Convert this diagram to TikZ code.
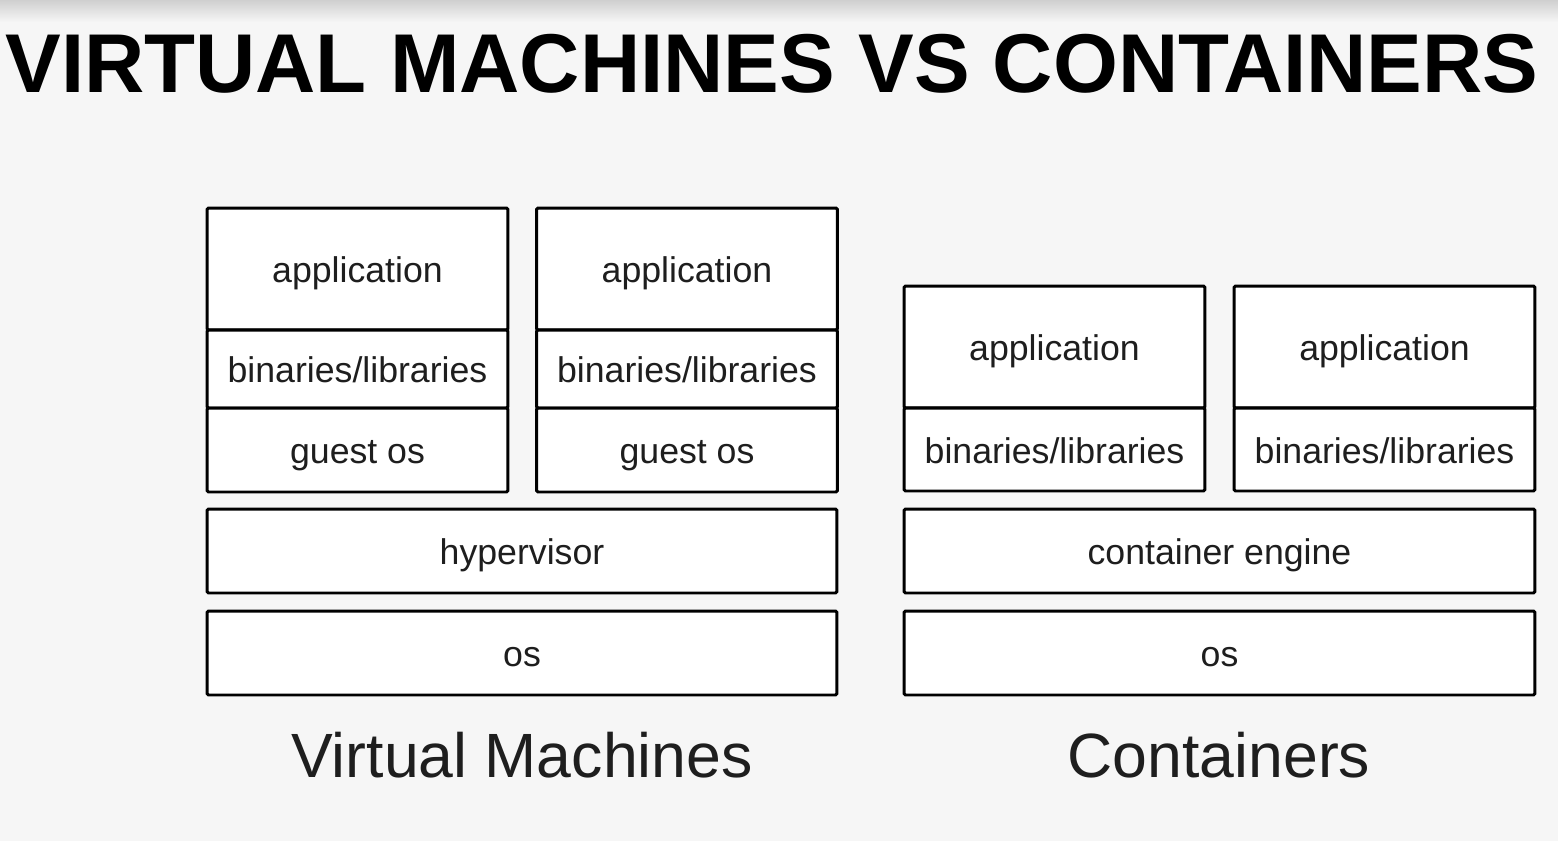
\documentclass[tikz,border=0pt]{standalone}
\usepackage{fontspec}
\setmainfont{Liberation Sans}
\definecolor{bggray}{HTML}{F6F6F6}
\definecolor{topgray}{HTML}{CFCFCF}
\definecolor{inkgray}{HTML}{1E1E1E}
\begin{document}
\begin{tikzpicture}[x=0.02cm,y=-0.02cm,
		layer/.style={draw=black, fill=white, line width=1.7pt, rounded corners=0.8pt, inner sep=0pt, text height=16.4pt, text depth=0.8pt, text=inkgray, font=\fontsize{20.3}{24}\selectfont},
		narrow/.style={layer, minimum width=6.02cm},
		wide/.style={layer, minimum width=12.6cm, minimum height=1.68cm},
		caption/.style={anchor=base, text=inkgray, font=\fontsize{35.6}{40}\selectfont}
		]
		\useasboundingbox (0,0) rectangle (1558,841);
		\fill[bggray] (0,0) rectangle (1558,841);
		\shade[top color=topgray, bottom color=bggray] (0,0) rectangle (1558,22);
		\node[anchor=base west, inner sep=0pt, font=\fontsize{47.5}{52}\bfseries\selectfont] (title) at (5,93) {VIRTUAL MACHINES VS CONTAINERS};
		% virtual machines
		\node[narrow, minimum height=2.44cm] (vmappa) at (357.5,269) {application};
		\node[narrow, minimum height=1.56cm] (vmbina) at (357.5,369) {binaries/libraries};
		\node[narrow, minimum height=1.68cm] (vmguesta) at (357.5,450) {guest os};
		\node[narrow, minimum height=2.44cm] (vmappb) at (687,269) {application};
		\node[narrow, minimum height=1.56cm] (vmbinb) at (687,369) {binaries/libraries};
		\node[narrow, minimum height=1.68cm] (vmguestb) at (687,450) {guest os};
		\node[wide] (hyper) at (522,551) {hypervisor};
		\node[wide] (vmos) at (522,653) {os};
		\node[caption] (vmlabel) at (522,777) {Virtual Machines};
		% containers
		\node[narrow, minimum height=2.44cm] (ctappa) at (1054.5,347) {application};
		\node[narrow, minimum height=1.66cm] (ctbina) at (1054.5,449.5) {binaries/libraries};
		\node[narrow, minimum height=2.44cm] (ctappb) at (1384.5,347) {application};
		\node[narrow, minimum height=1.66cm] (ctbinb) at (1384.5,449.5) {binaries/libraries};
		\node[wide, minimum width=12.62cm] (engine) at (1219.5,551) {container engine};
		\node[wide, minimum width=12.62cm] (ctos) at (1219.5,653) {os};
		\node[caption] (ctlabel) at (1219,777) {Containers};
	\end{tikzpicture}
\end{document}
